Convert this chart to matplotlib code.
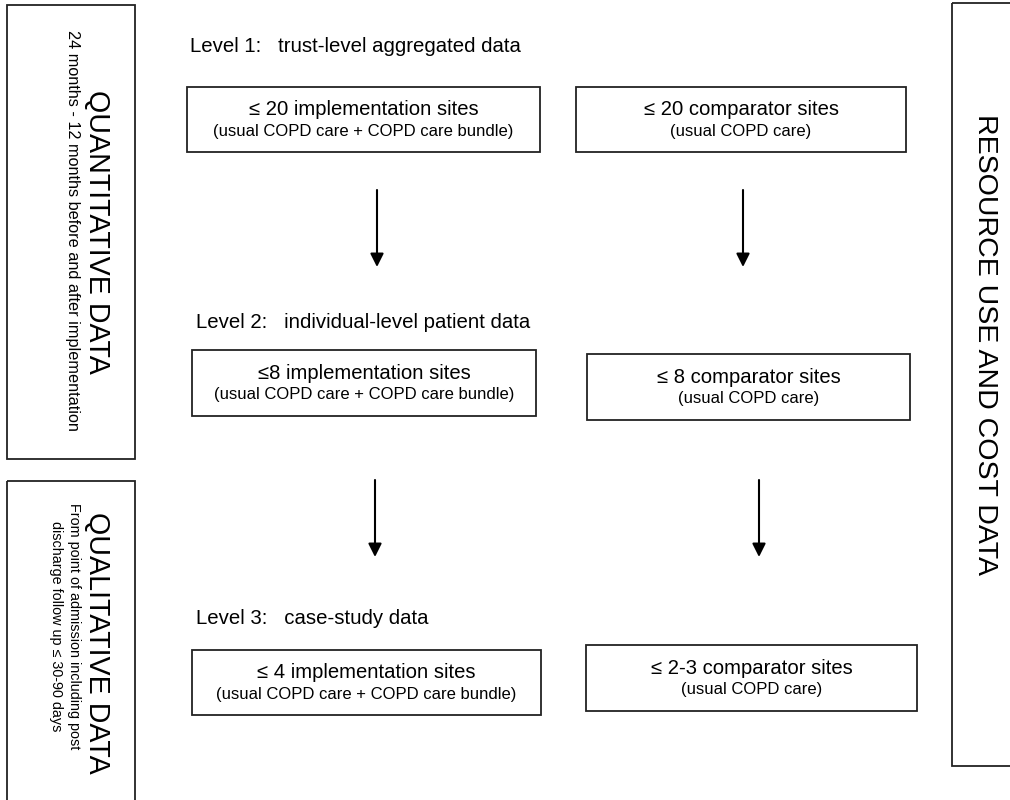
import matplotlib
matplotlib.use('Agg')
from matplotlib import pyplot
from matplotlib.patches import Rectangle

pyplot.rcParams['font.family'] = ['Liberation Sans', 'DejaVu Sans']

# 各レベルの見出しとボックスの文言
LEVEL_TITLES = [
    'Level 1:   trust-level aggregated data',
    'Level 2:   individual-level patient data',
    'Level 3:   case-study data',
]
IMPLEMENTATION_SITES = ['≤ 20 implementation sites', '≤8 implementation sites', '≤ 4 implementation sites']
COMPARATOR_SITES = ['≤ 20 comparator sites', '≤ 8 comparator sites', '≤ 2-3 comparator sites']
IMPLEMENTATION_NOTE = '(usual COPD care + COPD care bundle)'
COMPARATOR_NOTE = '(usual COPD care)'

SIDE_TITLES = ['QUANTITATIVE DATA', 'QUALITATIVE DATA']
SIDE_NOTES = [
    '24 months - 12 months before and after implementation',
    'From point of admission including post\ndischarge follow up ≤ 30-90 days',
]
RESOURCE_TITLE = 'RESOURCE USE AND COST DATA'

# ピクセル座標でのレイアウト (x0, y0, x1, y1)
TITLE_POS = [(190, 46), (196, 322), (196, 619)]
LEFT_BOXES = [(187, 87, 540, 152), (192, 350, 536, 416), (192, 650, 541, 715)]
RIGHT_BOXES = [(576, 87, 906, 152), (587, 354, 910, 420), (586, 645, 917, 711)]
ARROWS = [(377, 190, 267), (743, 190, 267), (375, 480, 557), (759, 480, 557)]
SIDE_BOXES = [(7, 5, 135, 459), (7, 481, 135, 805)]
RESOURCE_BOX = (952, 3, 1015, 766)


def draw_box(axes, box, lw=1.3):
    (x0, y0, x1, y1) = box
    axes.add_patch(Rectangle((x0, y0), x1 - x0, y1 - y0, fill=False, edgecolor='#222222', linewidth=lw))


def draw_site_box(axes, box, main_text, note):
    draw_box(axes, box)
    (x0, y0, x1, y1) = box
    cx = (x0 + x1) / 2
    h = y1 - y0
    axes.text(cx, y0 + h * 0.35, main_text, ha='center', va='center', fontsize=14.6)
    axes.text(cx, y0 + h * 0.68, note, ha='center', va='center', fontsize=12)


def main():
    figure = pyplot.figure(figsize=(10.1, 8), dpi=100)
    axes = figure.add_axes([0, 0, 1, 1])
    axes.set_xlim(0, 1010)
    axes.set_ylim(800, 0)
    axes.axis('off')

    for i in range(3):
        (tx, ty) = TITLE_POS[i]
        axes.text(tx, ty, LEVEL_TITLES[i], ha='left', va='center', fontsize=14.7)
        draw_site_box(axes, LEFT_BOXES[i], IMPLEMENTATION_SITES[i], IMPLEMENTATION_NOTE)
        draw_site_box(axes, RIGHT_BOXES[i], COMPARATOR_SITES[i], COMPARATOR_NOTE)

    for (x, y0, y1) in ARROWS:
        axes.annotate('', xy=(x, y1), xytext=(x, y0),
                      arrowprops=dict(arrowstyle='-|>', color='black', lw=1.5,
                                      mutation_scale=20, shrinkA=0, shrinkB=0))

    # 左側の縦書きボックス
    draw_box(axes, SIDE_BOXES[0])
    axes.text(97, 232, SIDE_TITLES[0], rotation=270, ha='center', va='center', fontsize=20.6)
    axes.text(72, 230, SIDE_NOTES[0], rotation=270, ha='center', va='center', fontsize=11.7)

    draw_box(axes, SIDE_BOXES[1])
    axes.text(97, 643, SIDE_TITLES[1], rotation=270, ha='center', va='center', fontsize=20.6)
    axes.text(65, 626, SIDE_NOTES[1], rotation=270, ha='center', va='center', fontsize=10.4,
              linespacing=1.3)

    draw_box(axes, RESOURCE_BOX)
    axes.text(985, 344, RESOURCE_TITLE, rotation=270, ha='center', va='center', fontsize=20.5)

    pyplot.savefig('out.png', dpi=100)


main()
